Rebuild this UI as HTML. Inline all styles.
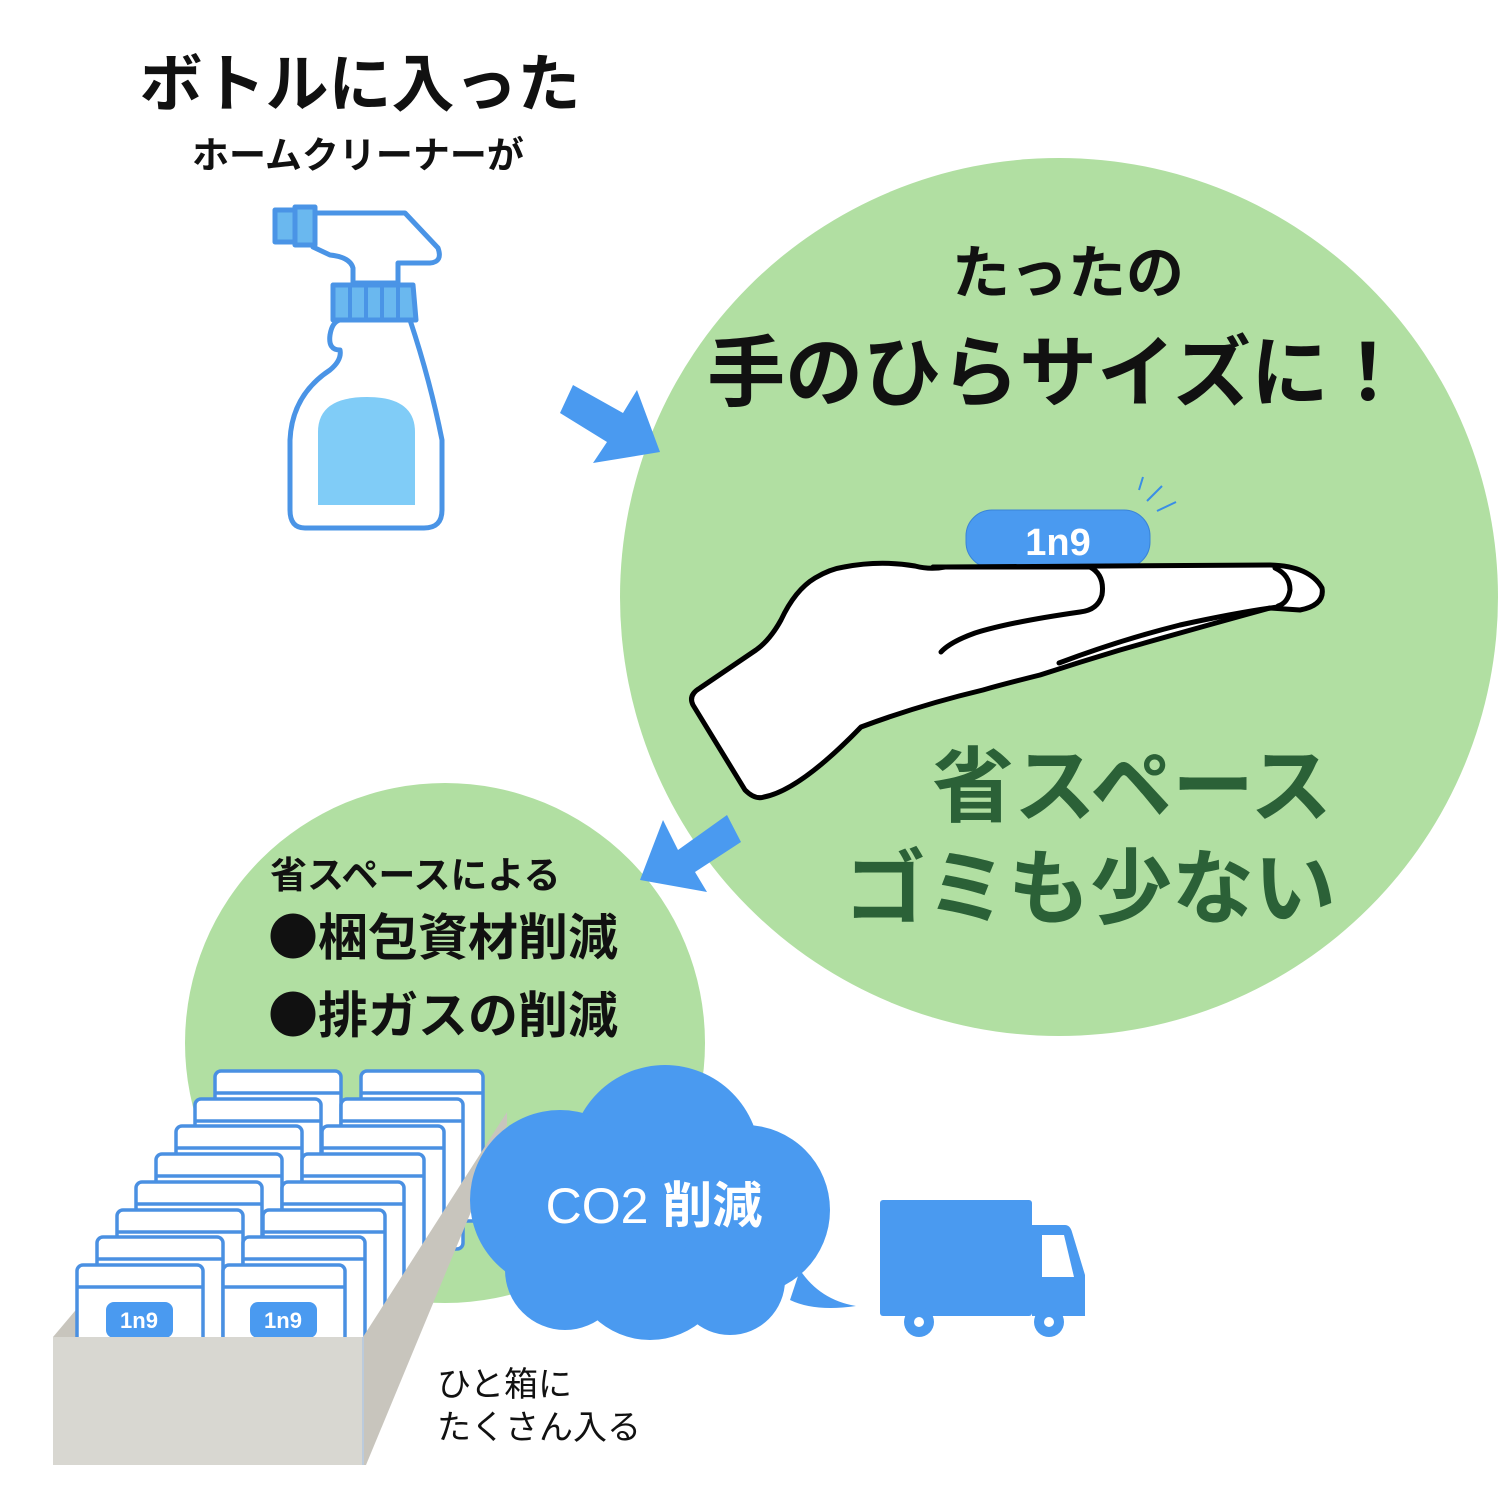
<!DOCTYPE html>
<html><head><meta charset="utf-8">
<style>
html,body{margin:0;padding:0;background:#fff;}
svg{display:block;}
text{font-family:"Liberation Sans","Noto Sans CJK JP",sans-serif;}
.cjk{font-family:"Noto Sans CJK JP",sans-serif;}
</style></head>
<body>
<svg width="1500" height="1500" viewBox="0 0 1500 1500" xmlns="http://www.w3.org/2000/svg">
<rect width="1500" height="1500" fill="#fff"/>
<circle cx="1059" cy="597" r="439" fill="#b1dfa2"/>
<circle cx="445" cy="1043" r="260" fill="#b1dfa2"/>

<text x="360" y="106" font-size="63" font-weight="bold" text-anchor="middle" fill="#111">ボトルに入った</text>
<text x="358" y="168" font-size="37" font-weight="bold" text-anchor="middle" fill="#111">ホームクリーナーが</text>

<g stroke="#4a94e6" stroke-width="5" stroke-linejoin="round" fill="#fff">
  <path d="M313,213 L405,213 L438,248 Q443,262 430,263 L398,263 L398,283 L353,283 L353,268 Q350,257 330,255 L313,247 Z"/>
  <rect x="275" y="210" width="20" height="32" fill="#6ab8ef"/>
  <rect x="295" y="207" width="20" height="38" fill="#6ab8ef"/>
  <path d="M333,285 L413,285 L416,320 L333,320 Z" fill="#6ab8ef"/>
  <path d="M340,320 L410,320 Q430,380 442,440 L442,510 Q442,528 424,528 L305,528 Q290,528 290,510 L290,440 Q292,395 330,370 Q342,360 340,350 Q328,350 330,335 Q332,322 340,320 Z"/>
</g>
<g stroke="#4a94e6" stroke-width="4"><line x1="350" y1="286" x2="350" y2="319"/><line x1="366" y1="286" x2="366" y2="319"/><line x1="382" y1="286" x2="382" y2="319"/><line x1="398" y1="286" x2="398" y2="319"/></g>
<path d="M318,505 L318,432 Q318,397 367,397 Q415,397 415,432 L415,505 Z" fill="#80ccf7"/>

<polygon points="573,385 623,413 637,390 660,452 593,463 607,442 560,413" fill="#4a9af0"/>
<polygon points="727,815 741,842 695,872 707,892 640,880 663,820 678,850" fill="#4a9af0"/>

<text x="1068" y="293" font-size="58" font-weight="bold" text-anchor="middle" fill="#111">たったの</text>
<text x="1057" y="400" font-size="78" font-weight="bold" text-anchor="middle" fill="#111">手のひらサイズに！</text>

<rect x="966" y="510" width="184" height="58" rx="26" fill="#4a9af0" stroke="#3a84d6" stroke-width="1"/>
<text x="1058" y="555" font-size="38" font-weight="bold" text-anchor="middle" fill="#fff">1n9</text>
<g stroke="#3a8ee6" stroke-width="2"><line x1="1139" y1="490" x2="1143" y2="477"/><line x1="1147" y1="501" x2="1162" y2="486"/><line x1="1157" y1="511" x2="1176" y2="502"/></g>

<g stroke="#000" stroke-width="5" fill="#fff" stroke-linejoin="round" stroke-linecap="round">
  <path d="M844,567 Q880,560 915,566 Q930,570 945,567 L1270,565 Q1310,566 1322,588 Q1325,605 1300,610 L1270,608 Q1190,630 1120,650 Q1080,662 1040,675 Q1000,685 983,690 Q920,705 861,727 Q800,790 764,797 Q755,800 745,790 L693,705 Q688,695 700,688 L756,650 Q770,640 781,620 Q795,590 815,578 Q830,569 844,567 Z"/>
  <path d="M933,567 L1090,567 Q1105,575 1102,595 Q1098,610 1080,612 Q1010,622 975,633 Q950,642 941,652" fill="none"/>
  <path d="M1059,663 Q1120,640 1180,625 Q1240,612 1278,607" fill="none"/>
  <path d="M1275,568 Q1290,575 1290,590 Q1288,603 1278,606" fill="none"/>
</g>

<text x="1132" y="815" font-size="82" font-weight="bold" text-anchor="middle" fill="#2b6137">省スペース</text>
<text x="1090" y="917" font-size="82" font-weight="bold" text-anchor="middle" fill="#2b6137">ゴミも少ない</text>

<text x="270" y="888" font-size="37" font-weight="bold" fill="#111">省スペースによる</text>
<text x="268" y="955" font-size="50" font-weight="bold" fill="#111"><tspan class="cjk">●</tspan>梱包資材削減</text>
<text x="268" y="1033" font-size="50" font-weight="bold" fill="#111"><tspan class="cjk">●</tspan>排ガスの削減</text>

<polygon points="53,1337 80,1305 80,1337" fill="#c8c5bd"/>
<g stroke="#4a90e2" stroke-width="3.5" fill="#fff">
  <g transform="translate(138,-194)"><rect x="77" y="1265" width="126" height="150" rx="6"/><line x1="77" y1="1287" x2="203" y2="1287"/><rect x="223" y="1265" width="122" height="150" rx="6"/><line x1="223" y1="1287" x2="345" y2="1287"/></g>
  <g transform="translate(118,-166)"><rect x="77" y="1265" width="126" height="150" rx="6"/><line x1="77" y1="1287" x2="203" y2="1287"/><rect x="223" y="1265" width="122" height="150" rx="6"/><line x1="223" y1="1287" x2="345" y2="1287"/></g>
  <g transform="translate(99,-139)"><rect x="77" y="1265" width="126" height="150" rx="6"/><line x1="77" y1="1287" x2="203" y2="1287"/><rect x="223" y="1265" width="122" height="150" rx="6"/><line x1="223" y1="1287" x2="345" y2="1287"/></g>
  <g transform="translate(79,-111)"><rect x="77" y="1265" width="126" height="150" rx="6"/><line x1="77" y1="1287" x2="203" y2="1287"/><rect x="223" y="1265" width="122" height="150" rx="6"/><line x1="223" y1="1287" x2="345" y2="1287"/></g>
  <g transform="translate(59,-83)"><rect x="77" y="1265" width="126" height="150" rx="6"/><line x1="77" y1="1287" x2="203" y2="1287"/><rect x="223" y="1265" width="122" height="150" rx="6"/><line x1="223" y1="1287" x2="345" y2="1287"/></g>
  <g transform="translate(40,-55)"><rect x="77" y="1265" width="126" height="150" rx="6"/><line x1="77" y1="1287" x2="203" y2="1287"/><rect x="223" y="1265" width="122" height="150" rx="6"/><line x1="223" y1="1287" x2="345" y2="1287"/></g>
  <g transform="translate(20,-28)"><rect x="77" y="1265" width="126" height="150" rx="6"/><line x1="77" y1="1287" x2="203" y2="1287"/><rect x="223" y="1265" width="122" height="150" rx="6"/><line x1="223" y1="1287" x2="345" y2="1287"/></g>
  <g><rect x="77" y="1265" width="126" height="150" rx="6"/><line x1="77" y1="1287" x2="203" y2="1287"/><rect x="223" y="1265" width="122" height="150" rx="6"/><line x1="223" y1="1287" x2="345" y2="1287"/></g>
</g>
<rect x="106" y="1302" width="67" height="36" rx="8" fill="#4a9af0"/>
<text x="139" y="1328" font-size="22" font-weight="bold" text-anchor="middle" fill="#fff">1n9</text>
<rect x="250" y="1302" width="67" height="36" rx="8" fill="#4a9af0"/>
<text x="283" y="1328" font-size="22" font-weight="bold" text-anchor="middle" fill="#fff">1n9</text>
<polygon points="363,1337 507,1112 507,1125 366,1465 363,1465" fill="#c8c5bd"/>
<rect x="53" y="1337" width="311" height="128" fill="#d8d7d1"/>
<line x1="363" y1="1337" x2="363" y2="1465" stroke="#9fbfe6" stroke-width="1"/>

<g fill="#4a9af0">
  <circle cx="665" cy="1160" r="95"/>
  <circle cx="560" cy="1200" r="90"/>
  <circle cx="745" cy="1210" r="85"/>
  <circle cx="650" cy="1260" r="80"/>
  <circle cx="565" cy="1270" r="60"/>
  <circle cx="730" cy="1280" r="55"/>
  <path d="M800,1270 Q820,1300 856,1306 Q815,1312 790,1300 Z"/>
</g>
<text x="654" y="1223" font-size="50" text-anchor="middle" fill="#fff">CO2 <tspan font-weight="bold">削減</tspan></text>

<g fill="#4a9af0">
  <rect x="880" y="1200" width="152" height="116" rx="3"/>
  <path d="M1032,1225 L1065,1225 Q1070,1225 1072,1232 L1085,1275 L1085,1316 L1032,1316 Z"/>
  <circle cx="919" cy="1322" r="15"/><circle cx="1049" cy="1322" r="15"/>
</g>
<path d="M1042,1235 L1064,1235 L1074,1277 L1042,1277 Z" fill="#fff"/>
<circle cx="919" cy="1322" r="5" fill="#fff"/><circle cx="1049" cy="1322" r="5" fill="#fff"/>

<text x="437" y="1396" font-size="34" fill="#111">ひと箱に</text>
<text x="437" y="1439" font-size="34" fill="#111">たくさん入る</text>
</svg>
</body></html>
